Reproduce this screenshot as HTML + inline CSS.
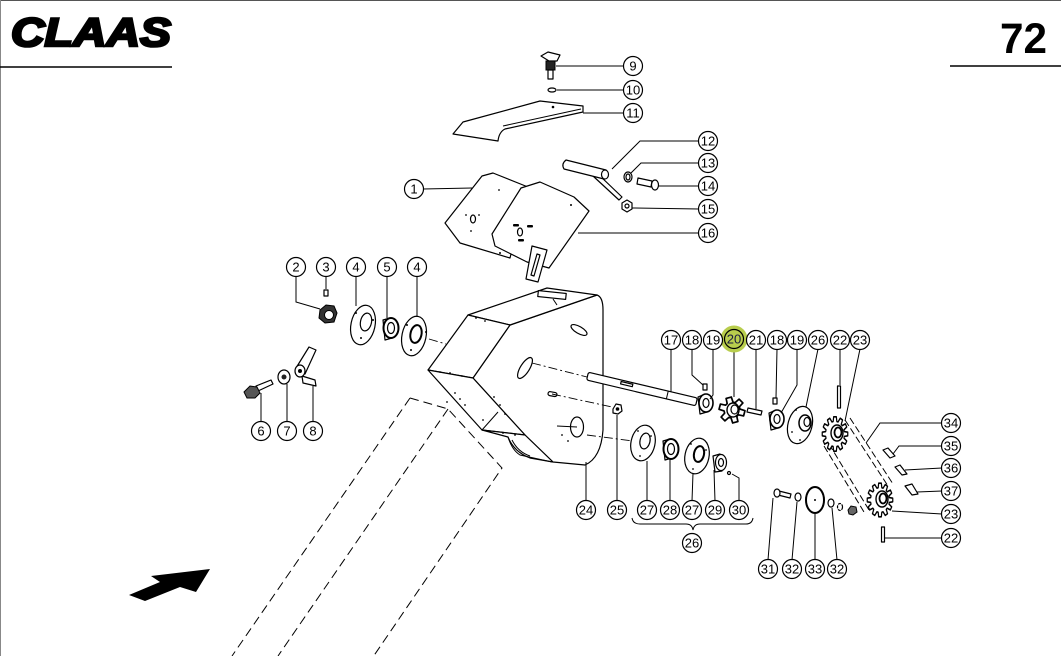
<!DOCTYPE html>
<html><head><meta charset="utf-8">
<style>
html,body{margin:0;padding:0;background:#fff;}
svg{display:block;}
.c circle{fill:#fff;stroke:#000;stroke-width:1.2;}
.c text{font-family:"Liberation Sans",sans-serif;font-size:13px;text-anchor:middle;fill:#000;}
.l{fill:none;stroke:#000;stroke-width:1;}
.p{fill:#fff;stroke:#000;stroke-width:1.2;stroke-linejoin:round;}
.dk{fill:#222;stroke:#000;stroke-width:1;}
.ds{fill:none;stroke:#000;stroke-width:1;stroke-dasharray:9 5;}
.cl{fill:none;stroke:#000;stroke-width:0.9;stroke-dasharray:9 3 2 3;}
</style></head>
<body>
<svg width="1061" height="656" viewBox="0 0 1061 656" xmlns="http://www.w3.org/2000/svg">
<defs>
<path id="sp12" d="M9.82,-1.91 L13.43,-1.41 L13.43,1.41 L9.82,1.91 L9.46,3.26 L12.33,5.49 L10.92,7.94 L7.55,6.56 L6.56,7.55 L7.94,10.92 L5.49,12.33 L3.26,9.46 L1.91,9.82 L1.41,13.43 L-1.41,13.43 L-1.91,9.82 L-3.26,9.46 L-5.49,12.33 L-7.94,10.92 L-6.56,7.55 L-7.55,6.56 L-10.92,7.94 L-12.33,5.49 L-9.46,3.26 L-9.82,1.91 L-13.43,1.41 L-13.43,-1.41 L-9.82,-1.91 L-9.46,-3.26 L-12.33,-5.49 L-10.92,-7.94 L-7.55,-6.56 L-6.56,-7.55 L-7.94,-10.92 L-5.49,-12.33 L-3.26,-9.46 L-1.91,-9.82 L-1.41,-13.43 L1.41,-13.43 L1.91,-9.82 L3.26,-9.46 L5.49,-12.33 L7.94,-10.92 L6.56,-7.55 L7.55,-6.56 L10.92,-7.94 L12.33,-5.49 L9.46,-3.26 Z"/>
</defs>
<rect width="1061" height="656" fill="#fff"/>
<line x1="0" y1="0.5" x2="1061" y2="0.5" stroke="#555" stroke-width="1"/>
<line x1="0.5" y1="0" x2="0.5" y2="656" stroke="#888" stroke-width="1"/>

<!-- header -->
<text x="11" y="46" font-family="Liberation Sans,sans-serif" font-weight="bold" font-style="italic" font-size="40" textLength="160" lengthAdjust="spacingAndGlyphs" fill="#000" stroke="#000" stroke-width="2.6" stroke-linejoin="miter">CLAAS</text>
<line x1="0" y1="67" x2="172" y2="67" stroke="#000" stroke-width="1.5"/>
<text x="1000" y="53" font-family="Liberation Sans,sans-serif" font-weight="bold" font-size="43" textLength="47" lengthAdjust="spacingAndGlyphs" fill="#000">72</text>
<line x1="950" y1="66" x2="1061" y2="66" stroke="#000" stroke-width="1.5"/>

<!-- dashed chute -->
<path class="ds" d="M410,398 L448,409 L502,468 L373,657"/>
<path class="ds" d="M410,398 L232,656"/>
<path class="ds" d="M448,409 L278,656"/>

<!-- arrow -->
<polygon points="129,595 160,582 151,576 210,569 196,592 180,587 145,601" fill="#000"/>

<!-- housing -->
<g>
<path class="p" d="M510,325 L597,295 Q603,297 603,310 L603,430 Q601,458 585,465 L553,462 L525,435 L473,378 Z"/>
<path class="p" d="M468,315 L547,288 L597,295 L510,325 Z"/>
<path class="p" d="M468,315 L510,325 L473,378 L428,370 Z"/>
<path class="p" d="M428,370 L473,378 L525,435 L482,430 Z"/>
<path class="p" d="M482,430 L508,437 Q514,452 530,458 L553,462 L525,435 Z"/>
<path class="l" d="M498,412 L482,430"/>
<path class="l" d="M508,437 Q512,450 520,455 L552,462" stroke-width="1.8"/>
<path class="l" d="M512,440 Q518,452 530,456"/>
<rect x="538" y="292" width="28" height="6" class="p" transform="rotate(6 552 295)"/>
<line x1="553" y1="299" x2="557" y2="305" class="l"/>
<ellipse cx="579" cy="330" rx="9" ry="3.5" class="p" transform="rotate(30 579 330)"/>
<ellipse cx="525" cy="368" rx="12" ry="4.5" class="p" transform="rotate(-58 525 368)"/>
<ellipse cx="577" cy="427" rx="6.5" ry="10" class="p"/>
<line x1="557" y1="426" x2="577" y2="427" class="l" stroke-width="1.5"/>
<rect x="548" y="392" width="9" height="4" rx="2" class="p" transform="rotate(10 552 394)"/>
<g fill="#000">
<circle cx="440" cy="372" r="0.9"/><circle cx="450" cy="373" r="0.9"/><circle cx="462" cy="376" r="0.9"/>
<circle cx="455" cy="393" r="0.9"/><circle cx="460" cy="399" r="0.9"/><circle cx="465" cy="405" r="0.9"/>
<circle cx="494" cy="397" r="0.9"/><circle cx="500" cy="405" r="0.9"/><circle cx="505" cy="414" r="0.9"/>
<circle cx="488" cy="431" r="0.9"/><circle cx="503" cy="433" r="0.9"/><circle cx="515" cy="435" r="0.9"/>
<circle cx="476" cy="318" r="0.9"/><circle cx="485" cy="321" r="0.9"/><circle cx="562" cy="435" r="0.9"/><circle cx="568" cy="441" r="0.9"/>
<circle cx="447" cy="402" r="0.9"/><circle cx="483" cy="420" r="0.9"/>
</g>
</g>

<!-- center lines -->
<path class="cl" d="M429,339 L446,344"/>
<path class="cl" d="M532,363 L587,377"/>
<path class="cl" d="M552,394 L612,407"/>
<path class="cl" d="M587,435 L633,441"/>

<!-- shaft 17 -->
<g transform="rotate(13.3 642 389)">
<rect x="586" y="385" width="112" height="8" rx="2" class="p"/>
<rect x="620" y="386.5" width="12" height="2.5" class="p" stroke-width="0.8"/>
<line x1="668" y1="385" x2="668" y2="393" class="l"/>
</g>

<!-- plate 11 + handle 9 + washer 10 -->
<path class="p" d="M453,134 L463,122 L540,101 L583,106 L583,112 L505,129 Q499,132 498,141 Z"/>
<path class="l" d="M503,126 L581,109"/>
<circle cx="553" cy="107" r="1.3" fill="#000"/>
<path class="p" d="M541,56 L548,52 L560,55 L557,61 L549,61 Z"/>
<rect x="546" y="61" width="9" height="9" class="dk" fill="#333"/>
<rect x="548" y="70" width="5" height="9" class="p"/>
<ellipse cx="552" cy="90" rx="4" ry="2" class="p"/>

<!-- plate 1 and 16 -->
<path class="p" d="M445,223 L482,176 L493,173 L528,187 L510,258 L460,243 Z"/>
<ellipse cx="473" cy="219" rx="2.5" ry="4" class="p"/>
<g fill="#000"><circle cx="466" cy="215" r="0.9"/><circle cx="479" cy="215" r="0.9"/><circle cx="471" cy="231" r="0.9"/><circle cx="499" cy="190" r="0.9"/></g>
<path class="p" d="M492,234 L521,188 L540,182 L574,197 L589,211 L549,268 L527,262 L495,246 Z"/>
<ellipse cx="520" cy="232" rx="2.5" ry="4" class="p"/>
<g fill="#000"><rect x="513" y="224" width="6" height="2.5" rx="1"/><rect x="527" y="225" width="6" height="2.5" rx="1"/><rect x="518" y="239" width="6" height="2.5" rx="1"/><circle cx="571" cy="205" r="1"/><circle cx="500" cy="253" r="1"/></g>
<path class="p" d="M532,246 L547,250 L538,282 L526,279 Z"/>
<path class="p" d="M537,254 L540,255 L534,276 L531,275 Z"/>

<!-- 12 13 14 15 -->
<path class="p" d="M593,176 L599,175 L622,197 L619,200 Z"/>
<path class="p" d="M566,160 L606,170 L604,179 L564,169 Q561,164 566,160 Z"/>
<ellipse cx="605" cy="174.5" rx="3.5" ry="4.5" class="p"/>
<ellipse cx="628" cy="177" rx="4" ry="5" class="p"/>
<ellipse cx="628" cy="177" rx="2" ry="3" class="p"/>
<path class="p" d="M638,178 L652,181 L651,187 L637,184 Z"/>
<ellipse cx="655" cy="185" rx="3.5" ry="5" class="p"/>
<polygon points="622,203 627,200 632,203 632,209 627,212 622,209" class="p" stroke-width="1.5"/>
<circle cx="627" cy="206" r="2" class="p"/>

<!-- left parts -->
<polygon points="320,310 326,305 334,306 337,313 334,322 325,323 319,318" fill="#333" stroke="#000"/>
<circle cx="329" cy="315" r="4.5" fill="#fff" stroke="#000"/>
<rect x="324" y="290" width="4" height="6" class="p"/>
<ellipse cx="363" cy="325" rx="12" ry="20" class="p" transform="rotate(12 363 325)"/>
<ellipse cx="366" cy="322" rx="5.5" ry="9" class="p" transform="rotate(12 366 322)"/>
<g fill="#000"><circle cx="356" cy="313" r="1"/><circle cx="373" cy="320" r="1"/><circle cx="361" cy="338" r="1"/></g>
<path class="p" d="M383,320 L390,318 L392,338 L385,340 Z"/>
<ellipse cx="391" cy="328" rx="7.5" ry="10" fill="#fff" stroke="#000" stroke-width="2"/>
<ellipse cx="391" cy="328" rx="3.5" ry="5.5" class="p"/>
<ellipse cx="414" cy="336" rx="12" ry="20" class="p" transform="rotate(12 414 336)"/>
<ellipse cx="416" cy="334" rx="5.5" ry="9" fill="#fff" stroke="#000" stroke-width="2" transform="rotate(12 416 334)"/>
<g fill="#000"><circle cx="407" cy="325" r="1"/><circle cx="426" cy="332" r="1"/><circle cx="411" cy="350" r="1"/></g>
<path class="p" d="M256,386 L271,380 L273,384 L258,391 Z"/>
<polygon points="244,392 250,386 257,387 260,393 255,398 247,398" fill="#555" stroke="#000"/>
<ellipse cx="284" cy="377" rx="6" ry="7" class="p" stroke-width="1.5"/>
<circle cx="284" cy="377" r="2.5" fill="#222"/>
<path class="p" d="M296,368 L309,347 L316,350 L305,374 Z"/>
<path class="p" d="M302,376 L315,380 L316,386 L303,383 Z"/>
<ellipse cx="300" cy="371" rx="5" ry="6" class="p" stroke-width="1.5"/>
<circle cx="300" cy="371" r="2" fill="#000"/>

<!-- right parts on shaft -->
<rect x="703" y="384" width="4" height="6" class="p"/>
<path class="p" d="M698,397 L705,394 L707,412 L700,414 Z"/>
<ellipse cx="706" cy="403" rx="7" ry="9" fill="#fff" stroke="#000" stroke-width="1.6"/>
<ellipse cx="706" cy="403" rx="3" ry="4.5" class="p"/>
<g transform="translate(732 410)">
<path d="M7.42,-3 L12.72,-2.7 L12.72,2.7 L7.42,3 L6.3,4.93 L8.7,9.66 L4.02,12.36 L1.11,7.92 L-1.11,7.92 L-4.02,12.36 L-8.7,9.66 L-6.3,4.93 L-7.42,3 L-12.72,2.7 L-12.72,-2.7 L-7.42,-3 L-6.3,-4.93 L-8.7,-9.66 L-4.02,-12.36 L-1.11,-7.92 L1.11,-7.92 L4.02,-12.36 L8.7,-9.66 L6.3,-4.93 Z" fill="#fff" stroke="#000" stroke-width="1.7" stroke-linejoin="round" transform="rotate(15)"/>
<ellipse cx="1" cy="0" rx="6" ry="7" fill="#fff" stroke="#000" stroke-width="1.4"/>
<ellipse cx="2.5" cy="-0.5" rx="3.5" ry="4.5" fill="#fff" stroke="#000" stroke-width="1.2"/>
</g>
<path class="p" d="M748,408 L762,411 L761,415 L747,412 Z"/>
<rect x="773" y="398" width="4" height="6" class="p"/>
<path class="p" d="M769,413 L776,410 L778,428 L771,430 Z"/>
<ellipse cx="777" cy="419" rx="7" ry="9" fill="#fff" stroke="#000" stroke-width="1.6"/>
<ellipse cx="777" cy="419" rx="3" ry="4.5" class="p"/>
<ellipse cx="800" cy="425" rx="12" ry="19" class="p" transform="rotate(15 800 425)"/>
<ellipse cx="805" cy="423" rx="6" ry="8" fill="#fff" stroke="#000" stroke-width="1.5"/>
<ellipse cx="807" cy="422" rx="3" ry="4.5" class="p"/>
<g fill="#000"><circle cx="796" cy="410" r="0.9"/><circle cx="792" cy="432" r="0.9"/><circle cx="800" cy="440" r="0.9"/></g>
<rect x="837.5" y="386" width="3" height="22" class="p"/>

<!-- chain -->
<g fill="none" stroke="#000" stroke-width="1" stroke-dasharray="7 3">
<path d="M824,446 L864,512"/><path d="M829,444 L869,510"/>
<path d="M845,420 L888,486"/><path d="M850,418 L893,484"/>
</g>

<!-- sprockets 23 -->
<g transform="translate(835 434) scale(0.95 1.28)">
<use href="#sp12" fill="#fff" stroke="#000" stroke-width="1.3" stroke-linejoin="round"/>
</g>
<ellipse cx="837" cy="433" rx="6" ry="8" fill="#fff" stroke="#000" stroke-width="1.4"/>
<ellipse cx="838" cy="432.5" rx="3.5" ry="5" fill="#fff" stroke="#000" stroke-width="1.8"/>
<g transform="translate(880 500) scale(0.95 1.25)">
<use href="#sp12" fill="#fff" stroke="#000" stroke-width="1.3" stroke-linejoin="round"/>
</g>
<ellipse cx="882" cy="499" rx="6" ry="8" fill="#fff" stroke="#000" stroke-width="1.4"/>
<ellipse cx="883" cy="498.5" rx="3.5" ry="5" fill="#fff" stroke="#000" stroke-width="1.8"/>

<path class="p" d="M883,450 L888,448 L895,456 L890,458 Z"/>
<path class="p" d="M895,467 L900,465 L907,474 L902,475 Z"/>
<path class="p" d="M905,486 L912,484 L918,494 L912,495 Z"/>
<rect x="881.5" y="527" width="3" height="15" class="p"/>

<!-- 31-33 -->
<path class="p" d="M779,491 L791,494 L790,498 L778,495 Z"/>
<ellipse cx="777" cy="493" rx="3" ry="4" class="p"/>
<ellipse cx="798" cy="497" rx="3" ry="4" class="p"/>
<ellipse cx="815" cy="500" rx="9" ry="13" fill="#fff" stroke="#000" stroke-width="2"/>
<circle cx="815" cy="500" r="1" fill="#000"/>
<ellipse cx="831" cy="503" rx="3" ry="4" class="p"/>
<ellipse cx="840" cy="507" rx="2.5" ry="3.5" class="p" stroke-dasharray="3 1"/>
<polygon points="848,510 851,506 856,507 857,512 853,515 849,514" fill="#666" stroke="#000"/>

<!-- lower parts -->
<polygon points="613,409 616,404 621,405 622,411 618,414 613,413" class="p" stroke-width="1.4"/>
<circle cx="617.5" cy="409" r="1.8" fill="#000"/>
<ellipse cx="643" cy="443" rx="12" ry="18" class="p" transform="rotate(12 643 443)"/>
<ellipse cx="645" cy="441" rx="5" ry="8" class="p" transform="rotate(12 645 441)"/>
<g fill="#000"><circle cx="638" cy="431" r="0.9"/><circle cx="651" cy="436" r="0.9"/><circle cx="640" cy="456" r="0.9"/></g>
<path class="p" d="M663,441 L670,439 L672,458 L665,460 Z"/>
<ellipse cx="671" cy="449" rx="7.5" ry="10" fill="#fff" stroke="#000" stroke-width="2"/>
<ellipse cx="671" cy="449" rx="3.5" ry="5.5" class="p"/>
<ellipse cx="697" cy="456" rx="12" ry="18" class="p" transform="rotate(12 697 456)"/>
<ellipse cx="699" cy="454" rx="5" ry="8" fill="#fff" stroke="#000" stroke-width="2" transform="rotate(12 699 454)"/>
<g fill="#000"><circle cx="691" cy="444" r="0.9"/><circle cx="706" cy="450" r="0.9"/><circle cx="693" cy="469" r="0.9"/></g>
<path class="p" d="M713,456 L720,454 L722,471 L715,472 Z"/>
<ellipse cx="721" cy="462.5" rx="5.5" ry="8" class="p"/>
<ellipse cx="721" cy="462.5" rx="2.5" ry="4" class="p"/>
<circle cx="729" cy="473" r="1.5" class="p"/>
<path class="l" d="M632,518 Q633,524 640,524 L686,524 Q692,524 693,530 Q694,524 700,524 L746,524 Q752,524 753,518"/>

<!-- leaders -->
<path class="l" d="M624,66 L556,66 M624,90 L557,90 M624,113 L583,113
M699,141 L640,141 L612,169 M699,163 L641,163 L631,173 M699,186 L658,186 M699,209 L632,208 M699,233 L578,233
M423,189 L472,188
M296,276 L296,302 L320,309 M326,276 L326,289 M356,276 L356,306 M387,276 L387,318 M417,276 L417,317
M261,422 L261,393 M287,422 L287,384 M313,422 L313,386
M671,349 L671,392 M692,349 L692,375 L703,385 M713,349 L713,395 L710,399 M734,352 L734,397
M756,349 L756,409 M777,349 L776,398 M797,349 L797,385 L781,413 M818,349 L806,407 M840,349 L840,385 M860,349 L845,421
M942,423 L880,423 L866,443 M942,446 L899,446 L893,454 M942,468 L905,470 M942,491 L917,492 M942,514 L892,511 M942,538 L885,538
M586,501 L586,462 M617,501 L617,415 M647,501 L647,461 M670,501 L670,459 M692,501 L693,473 M715,501 L714,470 M739,501 L739,478 L732,474
M768,560 L773,498 M792,560 L797,502 M815,560 L815,514 M837,560 L832,508"/>

<!-- highlight -->
<circle cx="734" cy="339" r="13.5" fill="#b0c83a" opacity="0.9"/>

<!-- callouts -->
<g class="c">
<circle cx="633" cy="66" r="9.5"/><text x="633" y="70.6">9</text>
<circle cx="633" cy="90" r="9.5"/><text x="633" y="94.6">10</text>
<circle cx="633" cy="113" r="9.5"/><text x="633" y="117.6">11</text>
<circle cx="708" cy="141" r="9.5"/><text x="708" y="145.6">12</text>
<circle cx="708" cy="163" r="9.5"/><text x="708" y="167.6">13</text>
<circle cx="708" cy="186" r="9.5"/><text x="708" y="190.6">14</text>
<circle cx="708" cy="209" r="9.5"/><text x="708" y="213.6">15</text>
<circle cx="708" cy="233" r="9.5"/><text x="708" y="237.6">16</text>
<circle cx="414" cy="189" r="9.5"/><text x="414" y="193.6">1</text>
<circle cx="296" cy="267" r="9.5"/><text x="296" y="271.6">2</text>
<circle cx="326" cy="267" r="9.5"/><text x="326" y="271.6">3</text>
<circle cx="356" cy="267" r="9.5"/><text x="356" y="271.6">4</text>
<circle cx="387" cy="267" r="9.5"/><text x="387" y="271.6">5</text>
<circle cx="417" cy="267" r="9.5"/><text x="417" y="271.6">4</text>
<circle cx="261" cy="431" r="9.5"/><text x="261" y="435.6">6</text>
<circle cx="287" cy="431" r="9.5"/><text x="287" y="435.6">7</text>
<circle cx="313" cy="431" r="9.5"/><text x="313" y="435.6">8</text>
<circle cx="671" cy="340" r="9.5"/><text x="671" y="344.6">17</text>
<circle cx="692" cy="340" r="9.5"/><text x="692" y="344.6">18</text>
<circle cx="713" cy="340" r="9.5"/><text x="713" y="344.6">19</text>
<circle cx="734" cy="339" r="9.5" style="fill:none"/><text x="734" y="343.6" style="fill:#1a1a40">20</text>
<circle cx="756" cy="340" r="9.5"/><text x="756" y="344.6">21</text>
<circle cx="777" cy="340" r="9.5"/><text x="777" y="344.6">18</text>
<circle cx="797" cy="340" r="9.5"/><text x="797" y="344.6">19</text>
<circle cx="818" cy="340" r="9.5"/><text x="818" y="344.6">26</text>
<circle cx="840" cy="340" r="9.5"/><text x="840" y="344.6">22</text>
<circle cx="860" cy="340" r="9.5"/><text x="860" y="344.6">23</text>
<circle cx="951" cy="423" r="9.5"/><text x="951" y="427.6">34</text>
<circle cx="951" cy="446" r="9.5"/><text x="951" y="450.6">35</text>
<circle cx="951" cy="468" r="9.5"/><text x="951" y="472.6">36</text>
<circle cx="951" cy="491" r="9.5"/><text x="951" y="495.6">37</text>
<circle cx="951" cy="514" r="9.5"/><text x="951" y="518.6">23</text>
<circle cx="951" cy="538" r="9.5"/><text x="951" y="542.6">22</text>
<circle cx="586" cy="510" r="9.5"/><text x="586" y="514.6">24</text>
<circle cx="617" cy="510" r="9.5"/><text x="617" y="514.6">25</text>
<circle cx="647" cy="510" r="9.5"/><text x="647" y="514.6">27</text>
<circle cx="670" cy="510" r="9.5"/><text x="670" y="514.6">28</text>
<circle cx="692" cy="510" r="9.5"/><text x="692" y="514.6">27</text>
<circle cx="715" cy="510" r="9.5"/><text x="715" y="514.6">29</text>
<circle cx="739" cy="510" r="9.5"/><text x="739" y="514.6">30</text>
<circle cx="692" cy="543" r="9.5"/><text x="692" y="547.6">26</text>
<circle cx="768" cy="569" r="9.5"/><text x="768" y="573.6">31</text>
<circle cx="792" cy="569" r="9.5"/><text x="792" y="573.6">32</text>
<circle cx="815" cy="569" r="9.5"/><text x="815" y="573.6">33</text>
<circle cx="837" cy="569" r="9.5"/><text x="837" y="573.6">32</text>
</g>
</svg>
</body></html>
